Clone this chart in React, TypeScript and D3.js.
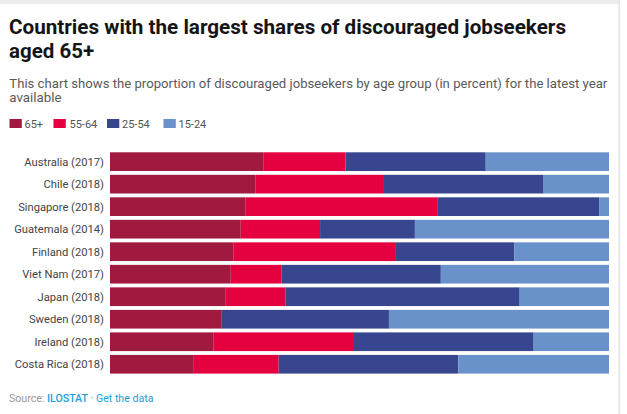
import React from "react";
import * as d3 from "d3";

const countries = [
  "Australia (2017)",
  "Chile (2018)",
  "Singapore (2018)",
  "Guatemala (2014)",
  "Finland (2018)",
  "Viet Nam (2017)",
  "Japan (2018)",
  "Sweden (2018)",
  "Ireland (2018)",
  "Costa Rica (2018)",
];
const ageGroups = ["65+", "55-64", "25-54", "15-24"];
const share65plus = [30.7, 29.2, 27.1, 26.2, 24.7, 24.2, 23.2, 22.4, 20.7, 16.8];
const share55to64 = [16.5, 25.7, 38.6, 15.9, 32.6, 10.2, 12.0, 0, 28.2, 17.0];
const share25to54 = [28.1, 32.0, 32.4, 19.0, 23.7, 31.9, 46.9, 33.5, 36.0, 36.0];
const share15to24 = [24.7, 13.1, 1.9, 38.9, 19.0, 33.7, 17.9, 44.1, 15.1, 30.2];
const colors = ["#a0193f", "#e5003f", "#37468f", "#6a92ca"];

const W = 627;
const H = 414;
const FONT = "Roboto, 'Noto Sans', sans-serif";

export default function App() {
  const rows = countries.map((c, i) => ({
    country: c,
    "65+": share65plus[i],
    "55-64": share55to64[i],
    "25-54": share25to54[i],
    "15-24": share15to24[i],
  }));
  const stack = d3.stack<any>().keys(ageGroups);
  const series = stack(rows);
  const x = d3.scaleLinear().domain([0, 100]).range([110, 609]);
  const y = d3
    .scaleBand<string>()
    .domain(countries)
    .range([152.3, 373.6])
    .paddingInner(0.17)
    .paddingOuter(0);

  const legendItems = [
    { sx: 9.5, tx: 24.5 },
    { sx: 53.5, tx: 69.5 },
    { sx: 107, tx: 122 },
    { sx: 163.5, tx: 178.5 },
  ];

  return (
    <div style={{ position: "fixed", left: 0, top: 0, width: W, height: H, background: "#fff" }}>
      <svg width={W} height={H} style={{ display: "block" }}>
        <rect x={0} y={0} width={W} height={H} fill="#fff" />
        <rect x={0} y={0} width={620} height={4} fill="#ececec" />
        <rect x={618.3} y={0} width={1.7} height={H} fill="#e6e6e6" />
        <text
          x={9}
          y={34.3}
          fontFamily={FONT}
          fontWeight={700}
          fontSize={20.5}
          fill="#151515"
          textLength={557}
          lengthAdjust="spacingAndGlyphs"
        >
          Countries with the largest shares of discouraged jobseekers
        </text>
        <text x={9} y={58.3} fontFamily={FONT} fontWeight={700} fontSize={20.5} fill="#151515">
          aged 65+
        </text>
        <text
          x={9.3}
          y={87.5}
          fontFamily={FONT}
          fontWeight={400}
          fontSize={13.3}
          fill="#5a5a5a"
          textLength={598}
          lengthAdjust="spacingAndGlyphs"
        >
          This chart shows the proportion of discouraged jobseekers by age group (in percent) for the latest year
        </text>
        <text x={9.3} y={102} fontFamily={FONT} fontWeight={400} fontSize={13.3} fill="#5a5a5a">
          available
        </text>
        {ageGroups.map((g, i) => (
          <g key={g}>
            <rect x={legendItems[i].sx} y={119} width={12.3} height={9} fill={colors[i]} />
            <text x={legendItems[i].tx} y={127.7} fontFamily={FONT} fontWeight={400} fontSize={11} fill="#555">
              {g}
            </text>
          </g>
        ))}
        {countries.map((c) => (
          <text
            key={c}
            x={104}
            y={(y(c) as number) + y.bandwidth() / 2}
            dy="0.36em"
            textAnchor="end"
            fontFamily={FONT}
            fontWeight={400}
            fontSize={11.2}
            fill="#444"
          >
            {c}
          </text>
        ))}
        {series.map((s, si) => (
          <g key={s.key} fill={colors[si]}>
            {s.map((d: any) => (
              <rect
                key={d.data.country}
                x={x(d[0])}
                y={y(d.data.country)}
                width={Math.max(0, x(d[1]) - x(d[0]))}
                height={y.bandwidth()}
              />
            ))}
          </g>
        ))}
        <text x={9} y={401.7} fontFamily={FONT} fontSize={10.6} fill="#999">
          Source:{" "}
          <tspan fill="#1a9fd9" fontWeight={500}>ILOSTAT</tspan>
          <tspan fill="#1a9fd9"> · Get the data</tspan>
        </text>
      </svg>
    </div>
  );
}
